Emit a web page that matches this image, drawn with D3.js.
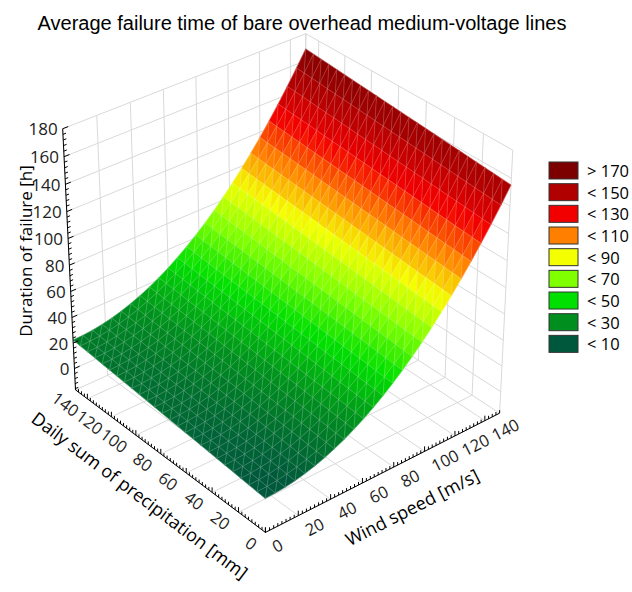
<!DOCTYPE html>
<html><head><meta charset="utf-8">
<script src="https://cdn.jsdelivr.net/npm/d3@7"></script>
<style>body{margin:0;background:#fff} svg{display:block}</style>
</head><body>
<svg id="chart" width="632" height="592"></svg>
<script>
const titleText = "Average failure time of bare overhead medium-voltage lines";
const zTitle = "Duration of failure [h]";
const precipTitle = "Daily sum of precipitation [mm]";
const windTitle = "Wind speed [m/s]";
const windTicks = [0,20,40,60,80,100,120,140];
const precipTicks = [0,20,40,60,80,100,120,140];
const durationTicks = [0,20,40,60,80,100,120,140,160,180];
const windDomain = [0,150], precipDomain = [0,150], durationDomain = [-17,180];
const legendLabels = ["> 170","< 150","< 130","< 110","< 90","< 70","< 50","< 30","< 10"];
const legendColors = ["#7c0000","#b00000","#f20000","#ff7f00","#f4ff00","#7fff00","#00e000","#008f1e","#00583c"];
const levelValues = [170,150,130,110,90,70,50,30,10];
// fitted response surface: duration = b0 + b1*w + b2*p + b3*w^2 + b4*p^2 + b5*w*p
const surfaceCoefficients = [9, 0, 0.09, 0.0065, 0, 0];

// camera (view) settings
const camera = {azimuth:0.6921, elevation:0.5714, distance:18.2838, scale:154.8878, cx:286.30, cy:274.30, zAspect:1.0049, yAspect:1.0026};

const svg = d3.select("#chart");
const xS = d3.scaleLinear().domain(windDomain).range([-1,1]);
const yS = d3.scaleLinear().domain(precipDomain).range([-camera.yAspect,camera.yAspect]);
const zS = d3.scaleLinear().domain(durationDomain).range([-camera.zAspect,camera.zAspect]);
const ca=Math.cos(camera.azimuth), sa=Math.sin(camera.azimuth), cp=Math.cos(camera.elevation), sp=Math.sin(camera.elevation);
function proj(w,p,z){
  const X=xS(w), Y=yS(p), Z=zS(z);
  const u=X*ca-Y*sa, h=X*sa+Y*ca;
  const v=Z*cp+h*sp, dist=camera.distance+h*cp-Z*sp, f=camera.distance/dist;
  return [camera.cx+camera.scale*u*f, camera.cy-camera.scale*v*f, dist];
}

const zmin=durationDomain[0], zmax=durationDomain[1];
const wmax=windDomain[1], pmax=precipDomain[1];
const gridColor="#d9d9d9";
function seg(g,a,b){const A=proj(...a),B=proj(...b); g.append("line").attr("x1",A[0]).attr("y1",A[1]).attr("x2",B[0]).attr("y2",B[1]);}

const gWalls=svg.append("g").attr("stroke",gridColor).attr("stroke-width",1).attr("fill","none");
// floor
windTicks.forEach(w=>seg(gWalls,[w,0,zmin],[w,pmax,zmin]));
precipTicks.forEach(p=>seg(gWalls,[0,p,zmin],[wmax,p,zmin]));
seg(gWalls,[0,pmax,zmin],[wmax,pmax,zmin]); seg(gWalls,[wmax,0,zmin],[wmax,pmax,zmin]);
// back-left wall (precip = max)
windTicks.concat([wmax]).forEach(w=>seg(gWalls,[w,pmax,zmin],[w,pmax,zmax]));
durationTicks.forEach(z=>seg(gWalls,[0,pmax,z],[wmax,pmax,z]));
// back-right wall (wind = max)
precipTicks.concat([pmax]).forEach(p=>seg(gWalls,[wmax,p,zmin],[wmax,p,zmax]));
durationTicks.forEach(z=>seg(gWalls,[wmax,0,z],[wmax,pmax,z]));

// surface
const sc=surfaceCoefficients;
const fz=(w,p)=>sc[0]+sc[1]*w+sc[2]*p+sc[3]*w*w+sc[4]*p*p+sc[5]*w*p;
const color=d3.scaleLinear().domain(levelValues.slice().reverse()).range(legendColors.slice().reverse()).interpolate(d3.interpolateRgb).clamp(true);
const N=25;
const wg=d3.range(N+1).map(i=>wmax*i/N), pg=d3.range(N+1).map(j=>pmax*j/N);
const tris=[];
for(let i=0;i<N;i++)for(let j=0;j<N;j++){
  const A=[wg[i],pg[j]],B=[wg[i+1],pg[j]],C=[wg[i+1],pg[j+1]],D=[wg[i],pg[j+1]];
  [[A,B,C],[A,C,D]].forEach(t=>{
    const pts=t.map(q=>proj(q[0],q[1],fz(q[0],q[1])));
    const zm=d3.mean(t,q=>fz(q[0],q[1]));
    tris.push({pts,zm,depth:d3.mean(pts,q=>q[2])});
  });
}
tris.sort((a,b)=>b.depth-a.depth);
const gS=svg.append("g");
const qz=z=>Math.round(z/1.5)*1.5;
gS.selectAll("path").data(tris).join("path")
  .attr("d",t=>"M"+t.pts.map(q=>q[0].toFixed(2)+","+q[1].toFixed(2)).join("L")+"Z")
  .attr("fill",t=>color(qz(t.zm))).attr("stroke",t=>color(qz(t.zm))).attr("stroke-width",0.6);
// mesh
let md="";
const pp=(w,p)=>proj(w,p,fz(w,p));
for(let i=0;i<=N;i++){ md+="M"+pg.map(p=>pp(wg[i],p).slice(0,2).join(",")).join("L"); }
for(let j=0;j<=N;j++){ md+="M"+wg.map(w=>pp(w,pg[j]).slice(0,2).join(",")).join("L"); }
for(let i=0;i<N;i++)for(let j=0;j<N;j++){const a=pp(wg[i],pg[j]),b=pp(wg[i+1],pg[j+1]); md+="M"+a[0]+","+a[1]+"L"+b[0]+","+b[1];}
gS.append("path").attr("d",md).attr("fill","none").attr("stroke","rgba(255,255,255,0.3)").attr("stroke-width",0.6);

// axes
const gA=svg.append("g").attr("stroke","#000").attr("stroke-width",1).attr("fill","none");
seg(gA,[0,0,zmin],[0,pmax,zmin]); seg(gA,[0,0,zmin],[wmax,0,zmin]); seg(gA,[0,pmax,zmin],[0,pmax,zmax]);
function vtick(pt,len){const A=proj(...pt); gA.append("line").attr("x1",A[0]).attr("y1",A[1]).attr("x2",A[0]).attr("y2",A[1]-len);}
d3.range(0,wmax+0.01,2.5).forEach(w=>vtick([w,0,zmin], w%20===0?5:3));
d3.range(0,pmax+0.01,2.5).forEach(p=>vtick([0,p,zmin], p%20===0?5:3));
d3.range(-16,zmax+0.01,4).forEach(z=>seg(gA,[0,pmax,z],[(z%20===0?3.2:1.8),pmax,z]));

// tick labels
const font="'Open Sans', sans-serif";
const gT=svg.append("g").attr("font-family",font).attr("font-size",16.5).attr("fill","#222");
durationTicks.forEach(z=>{const A=proj(0,pmax,z); gT.append("text").attr("font-size",17).attr("x",A[0]-5).attr("y",A[1]).attr("text-anchor","end").attr("dominant-baseline","central").text(z);});
const F0=proj(0,0,zmin), Rw=proj(wmax,0,zmin), Lp=proj(0,pmax,zmin);
const angW=Math.atan2(Rw[1]-F0[1],Rw[0]-F0[0])*180/Math.PI;
const angP=Math.atan2(F0[1]-Lp[1],F0[0]-Lp[0])*180/Math.PI;
windTicks.forEach(w=>{const A=proj(w,0,zmin); const r=angW*Math.PI/180; const x=A[0]-Math.sin(r)*17, y=A[1]+Math.cos(r)*17;
  gT.append("text").attr("transform",`translate(${x},${y}) rotate(${angW})`).attr("dominant-baseline","central").text(w);});
precipTicks.forEach(p=>{const A=proj(0,p,zmin); const r=angP*Math.PI/180; const x=A[0]-Math.sin(r)*17, y=A[1]+Math.cos(r)*17;
  gT.append("text").attr("transform",`translate(${x},${y}) rotate(${angP})`).attr("text-anchor","end").attr("dominant-baseline","central").text(p);});

// axis titles
const gL=svg.append("g").attr("font-family",font).attr("fill","#000");
gL.append("text").attr("font-size",17).attr("transform","translate(25,251) rotate(-90)").attr("text-anchor","middle").attr("dominant-baseline","central").text(zTitle);
gL.append("text").attr("font-size",18).attr("transform",`translate(140,495) rotate(${angP})`).attr("text-anchor","middle").attr("dominant-baseline","central").text(precipTitle);
gL.append("text").attr("font-size",18).attr("transform",`translate(412,507) rotate(${angW})`).attr("text-anchor","middle").attr("dominant-baseline","central").text(windTitle);

// title
svg.append("text").attr("x",302).attr("y",23).attr("text-anchor","middle").attr("dominant-baseline","central")
  .attr("font-family","'Liberation Sans', Arial, sans-serif").attr("font-size",20).attr("fill","#000").text(titleText);

// legend
const gLe=svg.append("g").attr("font-family",font).attr("font-size",16.5);
const ly=d3.scaleBand().domain(legendLabels).range([162,162+21.67*legendLabels.length]);
gLe.selectAll("rect").data(legendLabels).join("rect").attr("x",549).attr("y",d=>ly(d)).attr("width",29).attr("height",17)
  .attr("fill",(d,i)=>legendColors[i]).attr("stroke","#333").attr("stroke-width",1);
gLe.selectAll("text").data(legendLabels).join("text").attr("x",587).attr("y",d=>ly(d)+8.5).attr("dominant-baseline","central").text(d=>d);
</script>
</body></html>
